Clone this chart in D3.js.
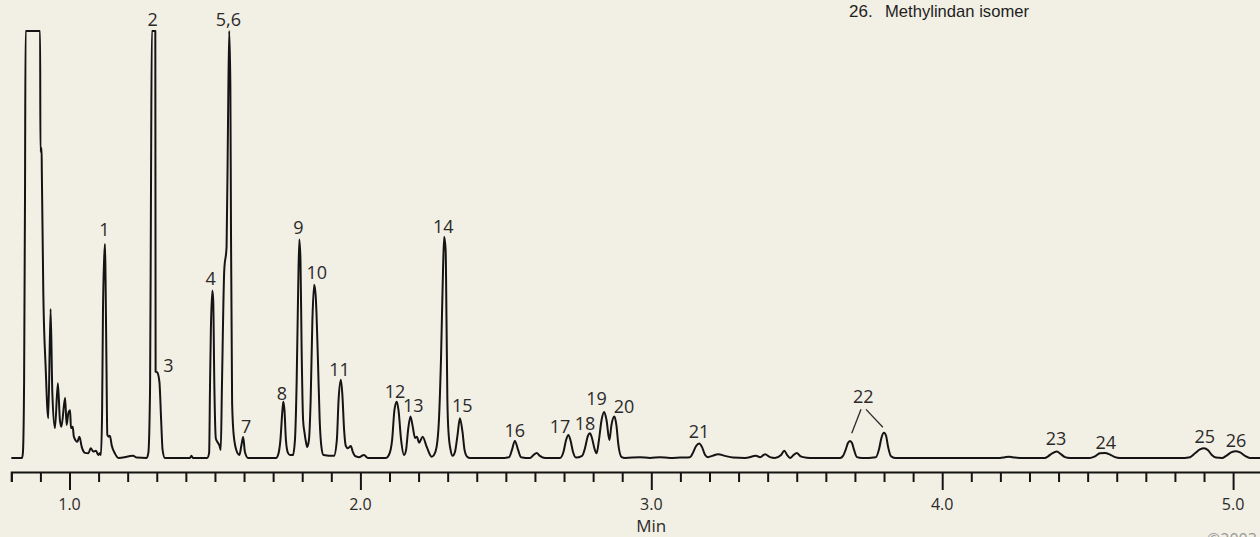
<!DOCTYPE html>
<html>
<head>
<meta charset="utf-8">
<script src="https://cdn.jsdelivr.net/npm/d3@7"></script>
<style>
  html, body { margin: 0; padding: 0; background: #f2efe4; }
  svg { display: block; }
</style>
</head>
<body>
<svg id="chart" width="1260" height="537"></svg>
<script>
// Retention time (min) and detector response (% of full scale; 100 = clipped top)
const times = [
  0.800,0.837,0.840,0.844,0.847,0.849,0.899,0.900,0.904,0.905,0.910,0.918,0.927,0.935,0.941,0.950,0.960,0.967,0.972,0.985,0.990,0.996,1.002,1.005,1.011,1.015,1.027,1.034,1.042,1.053,1.065,1.073,1.082,1.091,1.099,1.105,1.108,
  1.112,1.115,1.119,1.122,1.124,1.127,1.130,1.135,1.139,1.145,1.156,1.168,1.219,1.231,1.265,
  1.271,1.277,1.280,1.283,1.295,1.296,1.301,1.309,1.315,1.320,1.328,1.414,1.419,1.425,1.473,
  1.480,1.483,1.486,1.491,1.494,1.498,1.503,1.508,1.515,1.520,
  1.524,1.532,1.540,1.545,1.549,1.553,1.555,1.559,1.565,1.577,1.584,
  1.591,1.597,1.603,1.614,1.710,
  1.717,1.725,1.732,1.735,1.739,1.744,1.751,1.758,
  1.768,1.775,1.781,1.786,1.790,1.794,1.798,1.803,1.808,1.813,1.817,
  1.823,1.829,1.835,1.841,1.846,1.849,1.854,1.860,1.866,1.873,
  1.909,1.919,1.925,1.933,1.938,1.944,1.950,1.957,1.967,1.974,1.981,1.995,2.012,2.026,
  2.088,2.098,2.109,2.117,2.125,2.131,2.140,2.150,
  2.157,2.164,2.172,2.179,2.188,2.194,2.202,2.214,2.228,2.245,2.253,
  2.262,2.270,2.277,2.284,2.288,2.293,2.296,2.299,2.303,2.310,2.317,
  2.325,2.334,2.342,2.351,2.358,2.367,2.377,2.480,
  2.511,2.521,2.531,2.542,2.552,2.583,2.595,2.606,2.617,2.635,
  2.686,2.698,2.707,2.715,2.722,2.731,2.741,
  2.762,2.772,2.782,2.789,2.796,2.805,2.812,
  2.820,2.829,2.838,2.846,2.856,
  2.863,2.873,2.880,2.887,2.898,2.910,2.961,2.996,3.030,3.064,3.099,3.133,
  3.143,3.154,3.165,3.174,3.185,3.195,3.209,3.230,3.253,3.281,3.322,3.360,3.374,3.391,3.408,3.425,3.446,3.457,3.467,3.477,3.489,3.500,3.511,3.522,3.546,3.649,
  3.659,3.669,3.676,3.683,3.690,3.697,3.707,3.724,
  3.772,3.783,3.791,3.800,3.807,3.814,3.824,3.838,
  4.199,4.216,4.231,4.250,4.285,4.353,
  4.364,4.378,4.394,4.408,4.422,4.439,
  4.508,4.525,4.542,4.560,4.577,4.594,4.611,4.817,4.852,
  4.869,4.886,4.900,4.914,4.927,4.941,4.962,
  4.976,4.993,5.009,5.024,5.041,5.058,5.100
];
const signal = [
  0,0,1.4,18.3,60.4,100,100,71.7,72.6,66.3,38.6,21.3,9.3,34.9,15.2,7.0,17.5,8.9,7.3,14.1,7.7,10.5,11.2,7.0,7.3,5.0,3.8,5.0,2.6,1.2,1.1,2.3,1.5,1.7,0.7,1.2,0.7,
  10.5,34.0,46.4,50.1,41.7,22.2,5.4,5.0,5.2,3.0,1.1,0,0.5,0.1,0,
  1.2,16.7,60.4,100,100,20.2,20.1,17.9,8.9,1.9,0,0,0.5,0,0,
  1.2,16.7,30.0,39.2,37.0,16.7,4.6,3.8,3.0,1.9,
  16.7,44.0,49.5,79.2,100,87.0,55.7,12.9,5.0,1.2,0.7,
  3.0,4.9,1.4,0,0,
  0.7,4.2,11.2,13.2,11.2,4.2,1.2,0.7,
  0.7,4.2,18.3,39.3,51.2,46.4,25.3,8.9,5.9,3.7,2.6,
  4.2,13.6,32.3,40.6,38.2,34.0,23.0,8.9,2.6,0.7,
  0.5,4.2,13.6,18.3,14.8,6.6,2.8,2.3,2.8,1.4,0.5,0.2,0.7,0,
  0,0.7,4.2,11.2,13.2,11.2,4.2,0.7,
  1.9,6.6,9.7,7.7,4.7,5.0,3.6,5.0,2.6,0.3,0.7,
  2.6,8.9,23.0,44.0,51.8,48.7,32.3,13.6,5.9,1.9,0.5,
  1.4,5.4,9.3,6.1,1.9,0.3,0,0,
  0.2,1.9,4.0,1.9,0.2,0,0.7,1.2,0.5,0,
  0,1.4,4.2,5.4,4.2,1.4,0.1,
  0.5,2.3,5.2,5.8,4.7,2.1,1.1,
  4.2,8.9,10.8,8.9,4.2,
  7.7,9.7,7.7,3.0,0.2,0,0.2,0,0.2,0,0.1,0.2,
  1.2,2.8,3.4,2.6,0.7,0.2,0.5,0.9,0.5,0.1,0,0.5,0.2,0.9,0.2,0,0.7,1.7,0.7,0,0.7,1.2,0.5,0.2,0,0,
  0.5,2.1,3.5,4.0,3.5,1.9,0.2,0,
  0.2,2.1,4.7,5.9,5.2,2.6,0.4,0,
  0,0.2,0.3,0.1,0,0,
  0.4,1.1,1.5,0.9,0.2,0,
  0,0.4,1.1,1.2,0.8,0.2,0,0,0.2,
  1.1,2.0,2.3,1.8,0.7,0.1,0,
  0.5,1.3,1.6,1.3,0.5,0,0
];

// Peak labels: text, time of label centre, response level of label baseline
const peakLabels = ["1","2","3","4","5,6","7","8","9","10","11","12","13","14","15","16","17","18","19","20","21","22","23","24","25","26"];
const labelTimes = [1.120,1.286,1.340,1.485,1.546,1.607,1.730,1.787,1.850,1.928,2.119,2.182,2.285,2.350,2.531,2.686,2.772,2.812,2.906,3.164,3.729,4.391,4.562,4.903,5.010];
const labelLevels = [52.0,101.2,20.1,40.5,101.2,5.9,13.7,52.5,41.9,19.2,14.1,10.7,52.6,10.7,5.0,5.8,6.6,12.4,10.5,4.6,12.8,3.0,2.0,3.4,2.6];

// Leader lines from label "22" to its two peaks
const leaderTimes = [[3.721, 3.689], [3.738, 3.796]];
const leaderLevels = [[11.4, 5.8], [11.4, 7.2]];

// Axis
const axisStart = 0.8, axisEnd = 5.1;
const tickValues = d3.range(8, 52).map(i => i / 10);
const majorTicks = [1, 2, 3, 4, 5];
const tickLabels = ["1.0", "2.0", "3.0", "4.0", "5.0"];
const axisTitle = "Min";

// Legend (last visible line of the peak list)
const legendNumber = "26.";
const legendName = "Methylindan isomer";
const copyright = "©2003 Restek Corporation";

const svg = d3.select("#chart");
const W = 1260, H = 537;
svg.append("rect").attr("width", W).attr("height", H).attr("fill", "#f2efe4");

const x = d3.scaleLinear().domain([1, 5]).range([69.5, 1233.1]);
const y = d3.scaleLinear().domain([0, 100]).range([458, 31]);

const ink = "#141414";
const textInk = "#2a2a2a";

// trace
const pts = times.map((t, i) => [t, signal[i]]);
const line = d3.line().x(d => x(d[0])).y(d => y(d[1])).curve(d3.curveMonotoneX);
svg.append("path")
  .attr("d", line(pts))
  .attr("fill", "none")
  .attr("stroke", ink)
  .attr("stroke-width", 2)
  .attr("stroke-linejoin", "round");

// axis
const xa = x.copy().domain([axisStart, axisEnd]).range([x(axisStart), x(axisEnd)]);
const axisG = svg.append("g").attr("transform", "translate(0,472)")
  .call(d3.axisBottom(xa).tickValues(tickValues).tickSizeOuter(0).tickSize(10).tickFormat(""));
axisG.select(".domain").attr("stroke", ink).attr("stroke-width", 2);
axisG.selectAll(".tick line")
  .attr("stroke", ink)
  .attr("stroke-width", 2)
  .attr("y2", d => majorTicks.some(m => Math.abs(m - d) < 1e-6) ? 18 : 10);
axisG.selectAll(".tick text").remove();

svg.append("g").selectAll("text").data(majorTicks).join("text")
  .attr("x", d => x(d))
  .attr("y", 510)
  .attr("text-anchor", "middle")
  .attr("font-family", "'Open Sans', sans-serif")
  .attr("font-size", 16)
  .attr("fill", textInk)
  .text((d, i) => tickLabels[i]);

svg.append("text")
  .attr("x", x(3))
  .attr("y", 532)
  .attr("text-anchor", "middle")
  .attr("font-family", "'Open Sans', sans-serif")
  .attr("font-size", 17)
  .attr("fill", textInk)
  .text(axisTitle);

// peak labels
svg.append("g").selectAll("text").data(peakLabels).join("text")
  .attr("x", (d, i) => x(labelTimes[i]))
  .attr("y", (d, i) => y(labelLevels[i]))
  .attr("text-anchor", "middle")
  .attr("font-family", "'Open Sans', sans-serif")
  .attr("font-size", 18)
  .attr("fill", textInk)
  .text(d => d);

// leaders
svg.append("g").selectAll("line").data(leaderTimes).join("line")
  .attr("x1", (d, i) => x(d[0]))
  .attr("x2", (d, i) => x(d[1]))
  .attr("y1", (d, i) => y(leaderLevels[i][0]))
  .attr("y2", (d, i) => y(leaderLevels[i][1]))
  .attr("stroke", textInk)
  .attr("stroke-width", 1.3);

// legend
svg.append("text")
  .attr("x", 849).attr("y", 17)
  .attr("font-family", "'Liberation Sans', Arial, sans-serif")
  .attr("font-size", 17)
  .attr("fill", "#1e1e1e")
  .text(legendNumber);
svg.append("text")
  .attr("x", 885).attr("y", 17)
  .attr("font-family", "'Liberation Sans', Arial, sans-serif")
  .attr("font-size", 17)
  .attr("fill", "#1e1e1e")
  .attr("textLength", 144)
  .attr("lengthAdjust", "spacingAndGlyphs")
  .text(legendName);

// copyright note, cut by the bottom edge as in the reference
svg.append("text")
  .attr("x", 1207).attr("y", 545)
  .attr("font-family", "'Open Sans', sans-serif")
  .attr("font-size", 16)
  .attr("fill", "#9a9a9a")
  .text(copyright);
</script>
</body>
</html>
